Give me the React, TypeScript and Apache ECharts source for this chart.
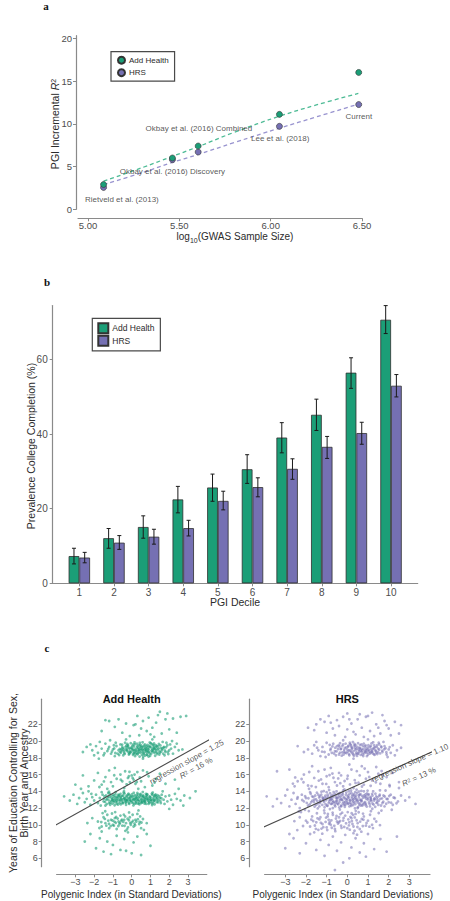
import React, { useEffect, useRef } from "react";
import * as echarts from "echarts";

const GREEN = "#1b9e77";
const PURPLE = "#7570b3";
const FONT = "'Liberation Sans', Arial, sans-serif";
const SERIF = "'Liberation Serif', 'DejaVu Serif', serif";
const AXIS_COLOR = "#8a8a8a";
const TICK_TEXT = "#4d4d4d";
const TITLE_TEXT = "#2b2b2b";

// ---------- Panel a ----------
const gwasLog10N = [5.085, 5.462, 5.603, 6.048, 6.482];
const r2AddHealth = [2.9, 6.0, 7.4, 11.1, 16.0];
const r2HRS = [2.55, 5.8, 6.7, 9.7, 12.25];
const fitX = [5.085, 5.3, 5.45, 5.6, 5.8, 6.05, 6.25, 6.48];
const fitAddHealth = [3.3, 4.9, 6.1, 7.3, 9.0, 10.9, 12.2, 13.55];
const fitHRS = [2.9, 4.3, 5.4, 6.4, 7.8, 9.5, 10.8, 12.3];
const studyLabels = [
  "Rietveld et al. (2013)",
  "Okbay et al. (2016) Discovery",
  "Okbay et al. (2016) Combined",
  "Lee et al. (2018)",
  "Current",
];
const studyLabelX = [5.185, 5.462, 5.607, 6.052, 6.483];
const studyLabelY = [1.17, 4.4, 9.39, 8.3, 10.83];
const aXTicks = [5, 5.5, 6, 6.5];
const aYTicks = [0, 5, 10, 15, 20];

// ---------- Panel b ----------
const deciles = [1, 2, 3, 4, 5, 6, 7, 8, 9, 10];
const collegeAddHealth = [7.3, 12.1, 15.1, 22.5, 25.7, 30.6, 39.1, 45.2, 56.5, 70.7];
const addHealthLow = [5.2, 9.4, 12.1, 18.9, 22.0, 26.8, 35.0, 41.0, 52.3, 67.0];
const addHealthHigh = [9.4, 14.7, 18.1, 26.0, 29.3, 34.5, 43.1, 49.4, 60.5, 74.5];
const collegeHRS = [6.9, 10.9, 12.5, 14.8, 22.1, 25.8, 30.7, 36.6, 40.3, 53.0];
const hrsLow = [5.5, 9.1, 10.5, 12.7, 19.7, 23.2, 27.9, 33.5, 37.3, 50.0];
const hrsHigh = [8.3, 12.8, 14.5, 16.9, 24.7, 28.3, 33.4, 39.4, 43.2, 56.0];
const bYTicks = [0, 20, 40, 60];

// ---------- Panel c ----------
const cXTicks = [-3, -2, -1, 0, 1, 2, 3];
const cYTicks = [6, 8, 10, 12, 14, 16, 18, 20, 22];
const regAddHealth = [[-4.9, 8.9], [4.85, 21.05]];
const regHRS = [[-4.75, 8.95], [4.9, 19.6]];

// Add Health individuals (PGI in SD, years of education), flat x,y pairs
const addHealthFlat = [
  -0.7,18.9, -0.5,19.3, -0.4,18.6, -0.3,19.0, -0.2,19.5, -0.1,18.8, 0.0,19.2, 0.1,18.5, 0.2,19.0, 0.3,19.4, 0.4,18.7, 0.5,19.1, 0.6,18.9, 0.7,19.6, 0.8,18.4, 0.9,19.0, 1.0,19.3, 1.1,18.7, 1.2,19.1, 1.3,18.9, 1.4,19.4, 1.5,18.6,
  -0.6,19.6, -0.45,18.3, -0.25,18.95, -0.05,19.75, 0.15,18.75, 0.35,19.2, 0.55,18.35, 0.75,19.05, 0.95,18.55, 1.15,19.55, 1.35,18.45, 1.55,19.15,
  -0.75,18.5, -0.55,19.0, -0.35,19.8, -0.15,18.4, 0.05,18.9, 0.25,18.65, 0.45,19.55, 0.65,18.45, 0.85,19.25, 1.05,18.85, 1.25,18.25, 1.45,19.65,
  0.12,19.35, 0.32,18.85, 0.52,19.45, 0.72,18.75, 0.92,19.45, 1.12,18.95, -0.22,19.2, -0.42,18.8, 0.62,19.3, 0.82,18.65, 1.02,19.75, 0.18,18.2, 0.38,19.0, 0.58,18.7, 0.78,19.35, 0.98,18.25, 1.18,19.2, 1.38,19.0, -0.08,18.6, -0.28,19.45, 0.28,19.7, 0.48,18.9, 0.68,19.0, 0.88,18.8, 1.08,19.1, 1.28,19.5, 1.48,18.8, 0.02,19.05, -0.62,18.7, 0.22,18.45, 0.42,18.15, 0.08,19.6, 0.58,19.85, 1.62,18.95, 1.72,19.3, 1.68,18.5,
  -0.12,19.1, 0.33,18.55, 0.77,18.95, 1.21,18.6, -0.48,19.15, 0.9,18.15, 0.15,19.85, 1.3,19.25, 0.45,19.3, -0.18,18.7,
  -0.93,19.12, -0.87,18.58, -0.81,19.41, -0.67,18.33, -0.63,19.07, -0.57,18.62, -0.51,19.58, -0.43,19.02, -0.37,18.47, -0.33,19.29, -0.27,18.83, -0.19,19.37, -0.13,18.52, -0.07,19.18, -0.03,18.71, 0.03,19.42, 0.07,18.36, 0.11,18.97, 0.17,19.63, 0.23,18.88, 0.27,19.21, 0.31,18.42, 0.37,19.52, 0.41,18.96, 0.47,18.61, 0.53,19.27, 0.57,19.02, 0.63,18.57, 0.67,19.44, 0.71,18.27, 0.73,19.18, 0.79,18.82, 0.83,19.53, 0.87,19.07, 0.91,18.68, 0.97,19.31, 1.03,18.47, 1.07,19.62, 1.13,18.83, 1.17,19.36, 1.23,19.04, 1.27,18.71, 1.33,19.38, 1.37,18.62, 1.43,19.12, 1.47,18.39, 1.53,19.48, 1.57,18.74, 1.63,19.11, 1.77,18.88, 1.83,19.26, 1.93,18.72, 0.13,18.61, 0.43,19.79, 0.83,18.32, 1.19,19.71, -0.53,18.86, -0.23,19.66, 0.61,18.12, 0.96,19.82,
  -2.1,18.9, -1.9,19.4, -1.8,18.6, -1.6,19.1, -1.5,18.3, -1.4,19.7, -1.3,18.8, -1.2,19.3, -1.1,18.5, -1.0,19.0, -0.9,18.2, -0.95,19.5, -1.05,18.75, -1.25,19.05, -1.7,19.9, -2.4,19.3, -1.45,18.55, -0.85,19.8, -2.0,18.3, -1.15,20.1,
  1.7,19.2, 1.8,18.7, 1.9,19.5, 2.0,18.9, 2.1,19.1, 2.2,18.5, 2.3,19.3, 2.5,18.9, 1.75,18.3, 1.85,19.8, 2.05,19.6, 2.4,19.7, 2.7,19.0, 1.95,18.45, 2.15,20.0, 1.65,19.9, -2.6,18.7, -1.75,17.9, 0.6,17.9, 1.1,20.2, -0.3,20.2, -2.2,19.6,
  -1.4,22.5, -1.2,22.4, -0.9,21.7, -0.5,21.0, -0.3,22.1, 0.1,21.9, 0.2,22.0, 0.4,20.7, 0.6,22.4, 0.8,21.2, 0.9,22.8, 1.1,21.6, 1.3,22.2, 1.4,23.1, 1.5,23.5, 1.6,20.9, 1.8,22.6, 2.0,21.4, 2.2,22.7, 2.6,22.9, 2.9,23.0, -0.1,20.6, 0.5,21.5, 1.0,20.8, -1.6,21.2, 0.3,23.0, 1.2,20.5, 1.9,23.3, -0.7,22.6, 2.4,21.0,
  -1.3,13.1, -1.2,12.6, -1.1,13.5, -1.0,12.9, -0.9,13.3, -0.8,12.5, -0.7,13.0, -0.6,13.7, -0.5,12.8, -0.4,13.2, -0.3,12.4, -0.2,13.6, -0.1,13.0, 0.0,12.7, 0.1,13.4, 0.2,12.9, 0.3,13.8, 0.4,12.6, 0.5,13.1, 0.6,13.5, 0.7,12.8, 0.8,13.3, 0.9,12.5, 1.0,13.0, 1.1,13.6, 1.2,12.9, 1.3,13.2, 1.4,12.7,
  -1.25,13.8, -1.15,12.4, -1.05,13.0, -0.95,12.7, -0.85,13.9, -0.75,13.3, -0.65,12.6, -0.55,13.1, -0.45,13.5, -0.35,12.9, -0.25,13.0, -0.15,12.6, -0.05,13.4, 0.05,13.1, 0.15,12.5, 0.25,13.3, 0.35,13.0, 0.45,13.6, 0.55,12.7, 0.65,13.2, 0.75,13.7, 0.85,12.9, 0.95,13.4, 1.05,12.6, 1.15,13.1, 1.25,13.5, 1.35,13.0,
  -1.18,13.3, -0.98,13.6, -0.78,12.8, -0.58,12.45, -0.38,13.75, -0.18,13.25, 0.02,13.65, 0.22,12.75, 0.42,13.35, 0.62,12.95, 0.82,13.65, 1.02,13.25, 1.22,12.45, -0.88,13.05, -0.68,13.45, -0.48,12.65, -0.28,13.35, -0.08,12.85, 0.12,13.05, 0.32,12.55, 0.52,13.45, 0.72,13.05, 0.92,12.75, 1.12,13.85, 1.32,13.4,
  -1.08,12.85, -0.62,13.25, -0.12,13.15, 0.38,12.85, 0.88,13.15, 1.38,13.55, -0.32,13.0, 0.18,13.55, 0.68,12.55, 1.18,12.8, -0.72,13.6, -0.22,12.8, 0.28,13.15, 0.78,13.5, 0.08,12.95, -0.42,13.05, 0.58,13.3, 1.08,12.95, -0.82,12.95, 0.48,12.85,
  -1.48,13.12, -1.42,12.74, -1.37,13.52, -1.33,12.48, -1.27,13.34, -1.22,12.92, -1.17,13.71, -1.13,12.67, -1.07,13.22, -1.03,12.53, -0.97,13.41, -0.93,12.88, -0.87,13.63, -0.83,12.71, -0.77,13.14, -0.73,12.42, -0.67,13.53, -0.63,12.83, -0.57,13.36, -0.53,13.02, -0.47,12.57, -0.43,13.82, -0.37,13.18, -0.33,12.66, -0.27,13.47, -0.23,12.96, -0.17,13.72, -0.13,12.51, -0.07,13.27, -0.03,12.87, 0.03,13.38, 0.07,12.62, 0.11,13.82, 0.17,13.09, 0.23,12.58, 0.27,13.49, 0.31,12.93, 0.37,13.27, 0.41,12.44, 0.47,13.69, 0.53,13.01, 0.57,12.73, 0.63,13.41, 0.67,12.88, 0.73,13.26, 0.77,12.52, 0.83,13.59, 0.87,13.04, 0.93,12.66, 0.97,13.33, 1.03,12.82, 1.07,13.71, 1.13,12.58, 1.17,13.28, 1.23,12.97, 1.27,13.62, 1.33,12.71, 1.37,13.24, 1.43,12.96, 1.47,13.41, 1.53,12.83, 1.58,13.17, -0.91,12.34, -0.41,14.02, 0.09,12.32, 0.59,13.91, 1.09,12.36, -1.21,13.96, 0.33,13.62, -0.61,12.98, 0.79,13.06, -0.11,13.56, 0.51,12.61, -0.81,13.34, 1.19,13.47, -0.31,12.73, 0.21,13.21, 0.71,12.72, -0.51,13.46, 0.99,13.02, -1.01,13.12,
  -3.6,13.4, -3.3,12.9, -3.1,13.6, -2.9,12.5, -2.8,13.2, -2.6,13.8, -2.5,12.7, -2.4,13.1, -2.3,14.0, -2.2,12.4, -2.1,13.3, -2.0,12.9, -1.9,13.6, -1.8,12.6, -1.7,13.2, -1.6,13.9, -1.5,12.8, -1.45,13.4, -1.4,12.3, -1.35,13.0, -2.7,14.3, -2.15,13.7, -1.65,12.3, -1.55,13.6, -3.0,14.8,
  1.5,13.2, 1.55,12.6, 1.6,13.6, 1.7,13.0, 1.75,12.5, 1.8,13.4, 1.9,12.8, 2.0,13.5, 2.1,13.0, 2.2,12.4, 2.3,13.7, 2.4,13.1, 2.6,12.9, 2.8,13.5, 3.1,13.2, 2.5,14.3, 1.65,14.0, 2.0,11.9, 3.4,14.0, 2.75,12.3,
  -2.0,15.3, -1.8,16.2, -1.6,14.8, -1.4,15.7, -1.2,16.5, -1.0,14.6, -0.8,15.5, -0.6,16.0, -0.4,14.4, -0.2,15.6, -0.1,15.1, 0.0,15.9, 0.1,15.4, 0.2,14.9, 0.3,16.3, 0.5,15.2, 0.7,14.5, 0.9,15.8, 1.1,14.7, 1.3,15.5, 1.5,16.1, -1.3,14.3, -0.5,15.2, 0.05,15.6, -0.15,15.8, 0.15,16.0, -2.3,14.6, -0.9,16.8, 0.6,16.5, 1.8,14.9, -1.1,15.1, 0.35,14.3, -0.35,16.4, 2.3,15.4, -2.6,15.9,
  -1.72,14.52, -0.93,15.92, -0.27,14.84, 0.43,15.67, 0.82,16.28, -0.58,15.38, 1.22,15.04, -1.48,15.18, 0.27,15.12, -0.12,16.33,
  -1.8,10.4, -1.6,9.8, -1.5,10.9, -1.4,10.2, -1.3,11.2, -1.2,9.6, -1.1,10.6, -1.0,10.0, -0.9,10.8, -0.8,9.5, -0.7,10.4, -0.6,11.1, -0.5,9.9, -0.4,10.6, -0.3,10.2, -0.2,9.7, -0.1,10.9, 0.0,10.3, 0.1,9.8, 0.2,10.6, 0.3,11.3, 0.4,10.1, 0.5,9.6, 0.6,10.7, -1.55,11.4, -1.25,10.5, -0.95,9.9, -0.65,10.1, -0.35,11.0, -0.05,10.0, 0.25,10.4, -0.75,10.75, -0.45,10.35, -0.15,10.55, 0.15,10.15, -1.05,11.35, -0.25,9.45, 0.45,11.0, 0.8,10.2, -2.1,10.8, -0.55,10.5, -0.85,10.25, 0.05,11.2, -1.35,9.9, 0.65,9.4,
  -1.62,10.33, -1.43,10.71, -1.21,10.12, -1.02,10.52, -0.83,10.93, -0.71,9.86, -0.52,10.62, -0.38,9.88, -0.22,10.73, -0.08,10.21, 0.07,10.48, 0.18,9.94, 0.33,10.68, -0.62,10.26, -0.92,10.38, -1.12,9.85, 0.42,10.36, -0.42,11.22,
  -1.41,11.62, -0.88,11.52, -0.14,11.48, 0.36,11.72, -2.36,10.21, -1.72,9.62, 0.52,10.28, -0.34,9.28,
  -2.2,8.9, -1.9,7.2, -1.7,8.4, -1.5,6.8, -1.3,8.0, -1.0,7.6, -0.8,8.7, -0.6,7.0, -0.4,8.3, -0.2,9.1, 0.0,6.6, 0.1,7.9, 0.3,8.6, 0.5,6.4, -1.1,6.5, -2.5,8.0, 0.8,8.9, -0.3,6.9, -1.6,9.2, 1.0,7.5,
];

// HRS individuals, flat x,y pairs
const hrsFlat = [
  -0.6,18.8, -0.5,19.4, -0.4,18.4, -0.3,19.1, -0.2,19.6, -0.1,18.6, 0.0,19.0, 0.1,18.3, 0.2,19.3, 0.3,18.8, 0.4,19.5, 0.5,18.5, 0.6,19.2, 0.7,18.7, 0.8,19.7, 0.9,18.9, 1.0,18.4, 1.1,19.3, 1.2,18.8, 1.3,19.5, 1.4,18.6, 1.5,19.1,
  -0.55,18.3, -0.35,19.75, -0.15,18.95, 0.05,19.45, 0.25,18.55, 0.45,19.05, 0.65,18.35, 0.85,19.35, 1.05,18.75, 1.25,19.85, 1.45,18.45, 1.65,19.25,
  -0.45,19.05, -0.25,18.65, -0.05,19.25, 0.15,18.85, 0.35,19.65, 0.55,18.95, 0.75,19.4, 0.95,18.2, 1.15,19.0, 1.35,18.9, 1.55,19.6, 0.12,19.8, 0.42,18.45, 0.72,18.9, 1.02,19.5, 1.32,18.35, -0.18,18.4, 0.22,19.05, 0.62,19.55, 0.92,19.1, 1.22,18.55, 0.32,18.25, 0.82,18.55, -0.38,19.35, 0.02,18.75, 0.52,19.75, 1.12,18.65, 1.42,19.3, 0.18,19.5, 0.68,19.05, 0.08,18.45, 0.58,18.75, 0.98,18.9, 1.28,19.15, -0.08,19.7, 0.38,19.2, 0.88,18.7,
  -0.82,18.93, -0.72,19.36, -0.64,18.52, -0.58,19.21, -0.52,18.77, -0.42,19.52, -0.36,18.62, -0.32,19.03, -0.24,19.41, -0.16,18.73, -0.12,19.17, -0.04,18.58, 0.04,19.33, 0.09,18.91, 0.14,19.62, 0.19,18.68, 0.24,19.18, 0.29,18.41, 0.34,19.44, 0.39,18.97, 0.44,18.66, 0.49,19.29, 0.54,18.52, 0.59,19.12, 0.64,18.84, 0.69,19.61, 0.74,18.43, 0.79,19.07, 0.84,18.79, 0.89,19.48, 0.94,18.62, 0.99,19.22, 1.04,18.96, 1.09,18.51, 1.14,19.41, 1.19,18.72, 1.24,19.06, 1.29,18.44, 1.34,19.27, 1.39,18.81, 1.44,19.52, 1.49,18.68, 1.54,18.97, 1.59,18.53, 1.64,19.37, 1.69,18.86, 1.79,19.02, 1.89,18.67, -0.68,19.68, 0.27,19.88, 0.77,18.21, 1.17,19.72, -0.27,18.26, 1.52,19.81, 0.47,18.23, -1.22,18.74, -1.46,19.21, 2.05,19.28,
  -1.9,19.0, -1.7,18.5, -1.6,19.5, -1.4,18.9, -1.3,18.2, -1.2,19.3, -1.1,18.7, -1.0,19.8, -0.9,18.4, -0.8,19.1, -0.75,18.6, -1.5,19.9, -2.1,18.7, -1.05,18.1, -0.85,19.55,
  1.7,18.7, 1.8,19.4, 1.9,18.4, 2.0,19.0, 2.1,18.6, 2.2,19.5, 2.4,18.9, 1.75,19.9, 1.95,18.1, 2.6,19.2, 1.85,19.15, 2.3,18.3, -2.4,19.4, 0.3,17.9, 1.0,20.2, -0.2,20.1,
  -1.6,21.3, -1.3,22.6, -1.0,21.0, -0.8,22.2, -0.6,20.7, -0.4,21.8, -0.2,22.9, 0.0,21.4, 0.2,22.1, 0.4,20.8, 0.5,22.6, 0.7,21.6, 0.9,22.9, 1.1,21.2, 1.2,23.4, 1.4,22.0, 1.6,20.9, 1.8,22.4, 2.0,21.5, 2.3,22.3, 2.6,21.9, -0.1,20.5, 0.6,23.2, 1.3,20.6, -0.9,23.0, 1.5,21.6, 0.1,22.6, 2.1,20.7, -1.5,22.0, 0.8,20.5, 1.0,23.0, -0.5,22.5,
  -0.7,21.5, 0.3,21.1, 1.7,23.1, -1.1,22.3, 2.5,20.9, 0.0,23.3, 1.9,21.9, -1.9,21.6,
  -1.6,13.0, -1.5,12.4, -1.4,13.6, -1.3,12.8, -1.2,13.3, -1.1,12.1, -1.0,13.9, -0.9,12.6, -0.8,13.2, -0.7,12.0, -0.6,13.7, -0.5,12.9, -0.4,13.4, -0.3,12.3, -0.2,14.1, -0.1,12.7, 0.0,13.1, 0.1,12.2, 0.2,13.8, 0.3,12.6, 0.4,13.3, 0.5,12.0, 0.6,13.6, 0.7,12.8, 0.8,14.0, 0.9,12.5, 1.0,13.2, 1.1,12.2, 1.2,13.7, 1.3,12.9, 1.4,13.4, 1.5,12.4, 1.6,13.1,
  -1.55,13.5, -1.35,12.2, -1.15,12.9, -0.95,13.6, -0.75,12.5, -0.55,13.2, -0.35,13.8, -0.15,12.4, 0.05,13.5, 0.25,12.9, 0.45,14.2, 0.65,12.3, 0.85,13.3, 1.05,12.7, 1.25,14.0, 1.45,12.7,
  -1.45,12.85, -1.25,13.95, -1.05,12.45, -0.85,13.05, -0.65,12.75, -0.45,13.65, -0.25,12.95, -0.05,13.85, 0.15,12.65, 0.35,13.15, 0.55,13.55, 0.75,12.45, 0.95,13.75, 1.15,13.05, 1.35,12.15, 1.55,13.45,
  -1.18,13.1, -0.98,12.3, -0.78,13.45, -0.58,12.2, -0.38,12.7, -0.18,13.3, 0.02,12.5, 0.22,13.4, 0.42,12.8, 0.62,13.0, 0.82,12.6, 1.02,13.55, 1.22,12.55, -0.88,14.15, -0.48,12.55, -0.08,13.05, 0.32,13.65, 0.72,13.45, 1.12,12.95, -0.68,13.35, -0.28,13.55, 0.12,12.9, 0.52,12.65, 0.92,13.1, -1.08,13.25, 0.08,13.25, -0.12,12.15, 0.28,12.35, 0.68,14.05, -0.32,13.1, 0.48,13.0, -0.72,12.9, 0.88,12.35, -0.52,14.0, 0.18,14.1, -0.22,12.55, 0.58,12.4, 1.32,13.15, -1.32,12.6, 0.38,13.9,
  -2.18,12.96, -2.04,13.42, -1.96,12.62, -1.88,13.17, -1.82,12.44, -1.77,13.71, -1.69,12.89, -1.64,13.33, -1.58,12.18, -1.52,13.06, -1.47,13.84, -1.41,12.57, -1.36,13.27, -1.31,12.93, -1.26,13.61, -1.21,12.38, -1.16,13.14, -1.12,12.72, -1.06,13.48, -1.02,12.96, -0.96,12.27, -0.92,13.37, -0.87,12.81, -0.83,13.76, -0.79,12.52, -0.74,13.12, -0.69,12.67, -0.66,13.91, -0.61,12.37, -0.56,13.46, -0.53,12.82, -0.49,13.18, -0.44,12.46, -0.41,13.72, -0.36,12.97, -0.33,13.34, -0.29,12.21, -0.26,13.02, -0.21,13.63, -0.17,12.73, -0.13,13.21, -0.09,12.41, -0.06,13.56, -0.02,12.91, 0.03,13.32, 0.06,12.58, 0.11,13.71, 0.14,12.96, 0.19,12.28, 0.23,13.19, 0.26,13.58, 0.31,12.77, 0.34,13.42, 0.39,12.49, 0.43,13.07, 0.47,13.81, 0.51,12.86, 0.56,13.29, 0.61,12.56, 0.64,13.66, 0.69,12.99, 0.73,12.31, 0.77,13.24, 0.81,13.52, 0.86,12.72, 0.91,13.38, 0.94,12.18, 0.99,13.01, 1.03,13.67, 1.08,12.48, 1.13,13.21, 1.17,12.84, 1.22,13.49, 1.27,12.42, 1.31,13.09, 1.36,13.71, 1.41,12.62, 1.46,13.28, 1.52,12.88, 1.57,13.59, 1.63,12.31, 1.68,13.16, 1.74,12.77, 1.81,13.38, 1.88,12.52, 1.95,13.08, 2.03,13.44, 2.12,12.65, 2.24,13.26, -0.71,13.58, -0.39,12.08, 0.07,14.02, 0.52,12.12, 0.98,14.08, -1.14,14.03, -0.14,14.22, 0.37,11.98, 1.21,11.92, -0.84,11.88, -1.43,11.96, 1.58,14.12, -2.42,13.12, 2.38,12.58, -0.23,13.86, 0.42,13.52, -0.57,12.63, 0.88,13.62, -0.99,13.21, 0.17,12.46, -1.33,13.41, 0.66,12.87, -0.47,13.24, 1.12,13.34, -0.02,12.66, 0.29,13.04, -0.81,12.98, 1.44,13.02, -1.61,12.71, 0.56,13.97,
  -3.4,13.1, -3.2,12.6, -3.0,13.5, -2.8,12.2, -2.7,13.0, -2.6,13.8, -2.5,12.5, -2.4,13.3, -2.3,12.0, -2.2,13.6, -2.1,12.8, -2.0,13.2, -1.9,12.3, -1.8,13.9, -1.75,12.7, -1.7,13.4, -2.9,14.2, -2.35,11.6, -1.85,14.3, -2.05,11.8, -3.6,12.2, -3.9,13.4, -2.55,14.6,
  1.7,12.6, 1.75,13.5, 1.8,12.2, 1.9,13.1, 2.0,12.7, 2.1,13.6, 2.2,12.4, 2.3,13.2, 2.45,12.8, 2.6,13.5, 2.8,12.9, 3.0,13.3, 1.85,14.1, 2.15,11.8, 2.5,14.4, 3.3,12.5, 2.05,14.6, 1.65,11.7,
  -2.8,16.6, -2.4,15.2, -2.1,16.0, -1.9,14.7, -1.6,15.6, -1.4,16.4, -1.2,14.9, -1.0,15.8, -0.8,16.8, -0.6,15.1, -0.4,16.2, -0.2,14.6, 0.0,15.5, 0.2,16.6, 0.4,15.0, 0.6,15.9, 0.8,14.8, 1.0,16.3, 1.2,15.3, 1.4,16.9, 1.6,14.9, 1.9,15.7, 2.2,16.2, -1.7,17.0, -0.9,14.5, -0.3,15.9, 0.3,14.4, 0.9,15.5, 1.5,16.1, -1.1,16.6, 0.1,17.2, -0.5,14.7, 0.7,17.0, 2.5,15.1, -3.4,16.4,
  -2.52,15.66, -1.84,16.31, -1.27,15.42, -0.72,16.12, -0.13,15.23, 0.46,16.41, 1.13,14.66, 1.72,15.92, 2.04,14.77, -1.52,14.51, 0.84,16.72, -0.44,15.54, 0.13,14.82, -2.12,15.08,
  -2.63,14.92, -2.21,15.47, -1.73,14.63, -1.38,15.28, -1.02,14.88, -0.67,15.62, -0.34,14.97, 0.02,15.86, 0.36,15.34, 0.71,14.58, 1.06,15.71, 1.38,15.08, 1.66,16.42, -0.86,15.94, 0.54,15.02,
  -1.86,11.64, -1.47,11.38, -1.12,11.72, -0.71,11.46, -0.36,11.82, 0.02,11.52, 0.41,11.67, 0.76,11.34, 1.14,11.63, 1.52,11.41, -0.94,11.29, 0.21,11.38, -2.24,11.52,
  -2.0,10.5, -1.8,9.8, -1.7,11.0, -1.5,10.3, -1.4,9.4, -1.3,10.9, -1.2,10.1, -1.1,11.4, -1.0,9.7, -0.9,10.6, -0.8,10.0, -0.7,11.2, -0.6,9.5, -0.5,10.4, -0.4,10.9, -0.3,9.9, -0.2,10.5, -0.1,11.1, 0.0,9.6, 0.1,10.3, 0.2,10.8, 0.3,9.8, 0.4,11.3, 0.5,10.2, 0.6,9.5, 0.7,10.7, 0.8,11.0, 0.9,9.9, 1.0,10.5, 1.2,10.0,
  -1.65,10.45, -1.35,10.65, -1.05,10.35, -0.75,9.65, -0.45,10.15, -0.15,9.75, 0.15,10.95, 0.45,10.55, 0.75,9.85, -0.95,11.0, -0.55,10.75, -0.25,11.45, 0.25,10.1, 0.55,11.5, -1.25,9.55, -0.85,10.3, 0.05,10.65, 0.35,9.3, -0.35,10.45, 1.1,11.2, -2.3,10.9, 1.4,10.4,
  -1.93,10.28, -1.74,10.63, -1.57,9.92, -1.44,10.78, -1.28,10.24, -1.16,9.72, -1.03,10.86, -0.88,10.12, -0.77,10.54, -0.63,9.88, -0.52,11.06, -0.41,10.31, -0.28,9.64, -0.18,10.82, -0.06,10.18, 0.08,9.93, 0.22,10.46, 0.36,10.88, 0.49,9.74, 0.62,10.38, 0.78,10.62, 0.93,10.22, 1.07,9.78, 1.31,10.72, -2.14,9.86, -0.97,9.38, -0.33,11.28, 0.28,11.18, 1.58,9.96, -2.56,10.44,
  -1.52,9.52, -0.58,9.24, 0.12,9.42, 0.68,9.18, 1.24,9.61, -2.42,9.37, -1.21,8.94, 0.47,8.82,
  -3.0,7.2, -2.6,8.4, -2.3,6.6, -2.0,7.8, -1.8,8.9, -1.5,7.0, -1.3,8.2, -1.1,6.3, -0.9,7.6, -0.7,8.6, -0.5,6.9, -0.3,7.9, -0.1,8.8, 0.1,6.0, 0.2,7.3, 0.4,8.4, 0.6,6.7, 0.8,7.8, 1.0,8.9, 1.3,7.1, 1.6,8.3, 1.9,6.8, -0.2,5.5, -1.6,9.1, 0.3,9.0, -2.8,8.9, 2.4,8.6, -0.6,4.6, 0.9,6.2,
];

const toPairs = (flat: number[]) => {
  const out: number[][] = [];
  for (let i = 0; i < flat.length; i += 2) out.push([flat[i], flat[i + 1]]);
  return out;
};

const axisLine = { show: true, onZero: false, lineStyle: { color: AXIS_COLOR, width: 1.2 } };
const tickStyle = (vals: number[]) => ({ show: true, length: 3, customValues: vals, lineStyle: { color: AXIS_COLOR, width: 1 } });
const labelStyle = (vals: number[], size: number, margin: number, fmt?: (v: number) => string) => ({
  customValues: vals,
  fontSize: size,
  color: TICK_TEXT,
  fontFamily: FONT,
  margin,
  formatter: fmt || ((v: number) => (v < 0 ? "\u2212" + Math.abs(v) : String(v))),
});

const errRender = (offset: number) => (params: any, api: any) => {
  const x = api.value(0);
  const pLo = api.coord([x, api.value(1)]);
  const pHi = api.coord([x, api.value(2)]);
  const cx = pLo[0] + offset;
  const w = 2;
  const st = { stroke: "#1a1a1a", lineWidth: 1 };
  return {
    type: "group",
    children: [
      { type: "line", shape: { x1: cx, y1: pLo[1], x2: cx, y2: pHi[1] }, style: st },
      { type: "line", shape: { x1: cx - w, y1: pHi[1], x2: cx + w, y2: pHi[1] }, style: st },
      { type: "line", shape: { x1: cx - w, y1: pLo[1], x2: cx + w, y2: pLo[1] }, style: st },
    ],
  };
};

const BAR_W = 10.7;

const richR2 = {
  i: { fontStyle: "italic", fontSize: 8, fontFamily: FONT, color: TITLE_TEXT },
  s: { fontSize: 5.5, fontFamily: FONT, color: TITLE_TEXT, verticalAlign: "top", lineHeight: 8 },
  n: { fontSize: 8, fontFamily: FONT, color: TITLE_TEXT },
};

const option: any = {
  animation: false,
  backgroundColor: "#ffffff",
  textStyle: { fontFamily: FONT },
  grid: [
    { left: 78, top: 35.7, width: 284, height: 173.6 },
    { left: 52.7, top: 305.6, width: 365, height: 277.7 },
    { left: 56.6, top: 699.2, width: 150.2, height: 167.5 },
    { left: 264.6, top: 699.2, width: 165.4, height: 167.5 },
  ],
  xAxis: [
    {
      gridIndex: 0, type: "value", min: 4.945, max: 6.5, offset: 9,
      splitLine: { show: false }, axisLine, axisTick: tickStyle(aXTicks),
      axisLabel: labelStyle(aXTicks, 9.5, 2, (v: number) => v.toFixed(2)),
    },
    {
      gridIndex: 1, type: "value", min: 0.231, max: 10.77,
      splitLine: { show: false }, axisLine, axisTick: tickStyle(deciles),
      axisLabel: labelStyle(deciles, 10, 4),
    },
    {
      gridIndex: 2, type: "value", min: -4, max: 4, offset: 7.6,
      splitLine: { show: false }, axisLine, axisTick: tickStyle(cXTicks),
      axisLabel: labelStyle(cXTicks, 9, 3),
    },
    {
      gridIndex: 3, type: "value", min: -4, max: 4, offset: 7.6,
      splitLine: { show: false }, axisLine, axisTick: tickStyle(cXTicks),
      axisLabel: labelStyle(cXTicks, 9, 3),
    },
  ],
  yAxis: [
    {
      gridIndex: 0, type: "value", min: 0, max: 20.3, offset: 2,
      splitLine: { show: false }, axisLine, axisTick: tickStyle(aYTicks),
      axisLabel: labelStyle(aYTicks, 9.5, 4),
    },
    {
      gridIndex: 1, type: "value", min: 0, max: 74.5,
      splitLine: { show: false }, axisLine, axisTick: tickStyle(bYTicks),
      axisLabel: labelStyle(bYTicks, 10, 5),
    },
    {
      gridIndex: 2, type: "value", min: 5, max: 25, offset: 14.9,
      splitLine: { show: false }, axisLine, axisTick: tickStyle(cYTicks),
      axisLabel: labelStyle(cYTicks, 9, 4),
    },
    {
      gridIndex: 3, type: "value", min: 5, max: 25, offset: 15.3,
      splitLine: { show: false }, axisLine, axisTick: tickStyle(cYTicks),
      axisLabel: labelStyle(cYTicks, 9, 4),
    },
  ],
  legend: [
    {
      orient: "vertical", left: 111, top: 51.7,
      data: [{ name: "Add Health", icon: "circle" }, { name: "HRS", icon: "circle" }],
      itemWidth: 7, itemHeight: 7, itemGap: 3.5,
      padding: [4, 6, 4, 6],
      borderColor: "#4a4a4a", borderWidth: 1.2,
      textStyle: { fontSize: 8, color: TITLE_TEXT, fontFamily: FONT, padding: [0, 0, 0, -1] },
      selectedMode: false,
    },
    {
      orient: "vertical", left: 92.3, top: 318.3,
      data: [{ name: "Add Health", icon: "rect" }, { name: "HRS", icon: "rect" }],
      itemWidth: 10, itemHeight: 10, itemGap: 0.5,
      padding: [4, 6, 4, 5],
      borderColor: "#4a4a4a", borderWidth: 1.2,
      textStyle: { fontSize: 8.5, color: TITLE_TEXT, fontFamily: FONT, padding: [0, 0, 0, -1] },
      selectedMode: false,
    },
  ],
  series: [
    // Panel a: fitted curves
    {
      type: "line", xAxisIndex: 0, yAxisIndex: 0, name: "Add Health fit",
      data: fitX.map((x, i) => [x, fitAddHealth[i]]),
      smooth: 0.4, symbol: "none", z: 2,
      lineStyle: { color: "#4dbb95", width: 1.3, type: [4, 3] },
    },
    {
      type: "line", xAxisIndex: 0, yAxisIndex: 0, name: "HRS fit",
      data: fitX.map((x, i) => [x, fitHRS[i]]),
      smooth: 0.4, symbol: "none", z: 2,
      lineStyle: { color: "#9893cf", width: 1.3, type: [4, 3] },
    },
    // Panel a: points
    {
      type: "scatter", xAxisIndex: 0, yAxisIndex: 0, name: "Add Health",
      data: gwasLog10N.map((x, i) => [x, r2AddHealth[i]]),
      symbolSize: 6, z: 4,
      itemStyle: { color: GREEN, borderColor: "#333333", borderWidth: 0.6, opacity: 1 },
    },
    {
      type: "scatter", xAxisIndex: 0, yAxisIndex: 0, name: "HRS",
      data: gwasLog10N.map((x, i) => [x, r2HRS[i]]),
      symbolSize: 6, z: 3,
      itemStyle: { color: PURPLE, borderColor: "#333333", borderWidth: 0.6, opacity: 1 },
    },
    // Panel a: study annotations
    {
      type: "scatter", xAxisIndex: 0, yAxisIndex: 0, name: "studies",
      data: studyLabelX.map((x, i) => ({ value: [x, studyLabelY[i]], name: studyLabels[i] })),
      symbolSize: 1, z: 5, silent: true,
      itemStyle: { color: "rgba(0,0,0,0)" },
      label: { show: true, position: "inside", formatter: "{b}", fontSize: 8, color: TITLE_TEXT, fontFamily: FONT },
    },
    // Panel b: bars
    {
      type: "bar", xAxisIndex: 1, yAxisIndex: 1, name: "Add Health",
      data: deciles.map((d, i) => [d, collegeAddHealth[i]]),
      barWidth: BAR_W, barGap: "0%",
      itemStyle: { color: GREEN, borderColor: "#2e2e2e", borderWidth: 0.8 },
    },
    {
      type: "bar", xAxisIndex: 1, yAxisIndex: 1, name: "HRS",
      data: deciles.map((d, i) => [d, collegeHRS[i]]),
      barWidth: BAR_W, barGap: "0%",
      itemStyle: { color: PURPLE, borderColor: "#2e2e2e", borderWidth: 0.8 },
    },
    // Panel b: error bars
    {
      type: "custom", xAxisIndex: 1, yAxisIndex: 1, name: "Add Health CI",
      data: deciles.map((d, i) => [d, addHealthLow[i], addHealthHigh[i]]),
      renderItem: errRender(-BAR_W / 2), z: 5, silent: true,
    },
    {
      type: "custom", xAxisIndex: 1, yAxisIndex: 1, name: "HRS CI",
      data: deciles.map((d, i) => [d, hrsLow[i], hrsHigh[i]]),
      renderItem: errRender(BAR_W / 2), z: 5, silent: true,
    },
    // Panel c: Add Health scatter
    {
      type: "scatter", xAxisIndex: 2, yAxisIndex: 2, name: "Add Health sample",
      data: toPairs(addHealthFlat), symbolSize: 2.8, clip: false, silent: true,
      itemStyle: { color: GREEN, opacity: 0.6 },
    },
    {
      type: "line", xAxisIndex: 2, yAxisIndex: 2, name: "Add Health regression",
      data: regAddHealth, symbol: "none", clip: false, z: 4, silent: true,
      lineStyle: { color: "#4a4a4a", width: 1.1 },
    },
    {
      type: "scatter", xAxisIndex: 2, yAxisIndex: 2, name: "Add Health regression text",
      data: [
        { value: [2.93, 17.5], name: "regression slope = 1.25" },
        { value: [3.43, 16.78], name: "{i|R}{s|2}{n| = 16 %}" },
      ],
      symbolSize: 1, z: 5, silent: true, clip: false,
      itemStyle: { color: "rgba(0,0,0,0)" },
      label: { show: true, position: "inside", rotate: 29, formatter: "{b}", fontSize: 8, color: TITLE_TEXT, fontFamily: FONT, rich: richR2 },
    },
    // Panel c: HRS scatter
    {
      type: "scatter", xAxisIndex: 3, yAxisIndex: 3, name: "HRS sample",
      data: toPairs(hrsFlat), symbolSize: 2.8, clip: false, silent: true,
      itemStyle: { color: PURPLE, opacity: 0.55 },
    },
    {
      type: "line", xAxisIndex: 3, yAxisIndex: 3, name: "HRS regression",
      data: regHRS, symbol: "none", clip: false, z: 4, silent: true,
      lineStyle: { color: "#4a4a4a", width: 1.1 },
    },
    {
      type: "scatter", xAxisIndex: 3, yAxisIndex: 3, name: "HRS regression text",
      data: [
        { value: [3.03, 17.38], name: "regression slope = 1.10" },
        { value: [3.47, 15.74], name: "{i|R}{s|2}{n| = 13 %}" },
      ],
      symbolSize: 1, z: 5, silent: true, clip: false,
      itemStyle: { color: "rgba(0,0,0,0)" },
      label: { show: true, position: "inside", rotate: 24, formatter: "{b}", fontSize: 8, color: TITLE_TEXT, fontFamily: FONT, rich: richR2 },
    },
  ],
  graphic: [
    // panel letters
    { type: "text", x: 46, y: 6, style: { text: "a", font: `bold 11px ${SERIF}`, fill: "#111", align: "center", verticalAlign: "middle" } },
    { type: "text", x: 47, y: 282, style: { text: "b", font: `bold 11px ${SERIF}`, fill: "#111", align: "center", verticalAlign: "middle" } },
    { type: "text", x: 47, y: 648, style: { text: "c", font: `bold 11px ${SERIF}`, fill: "#111", align: "center", verticalAlign: "middle" } },
    // panel a titles
    {
      type: "text", x: 55, y: 124, rotation: Math.PI / 2,
      style: {
        text: "{n|PGI Incremental }{i|R}{s|2}", align: "center", verticalAlign: "middle",
        rich: {
          n: { fontSize: 10.5, fontFamily: FONT, fill: TITLE_TEXT },
          i: { fontSize: 10.5, fontFamily: FONT, fontStyle: "italic", fill: TITLE_TEXT },
          s: { fontSize: 7, fontFamily: FONT, fill: TITLE_TEXT, verticalAlign: "top", lineHeight: 10 },
        },
      },
    },
    {
      type: "text", x: 235, y: 236.5,
      style: {
        text: "{n|log}{b|10}{n|(GWAS Sample Size)}", align: "center", verticalAlign: "middle",
        rich: {
          n: { fontSize: 10, fontFamily: FONT, fill: TITLE_TEXT },
          b: { fontSize: 7, fontFamily: FONT, fill: TITLE_TEXT, verticalAlign: "bottom", lineHeight: 14 },
        },
      },
    },
    // panel b titles
    { type: "text", x: 31, y: 446, rotation: Math.PI / 2, style: { text: "Prevalence College Completion (%)", font: `10.5px ${FONT}`, fill: TITLE_TEXT, align: "center", verticalAlign: "middle" } },
    { type: "text", x: 235, y: 602, style: { text: "PGI Decile", font: `10.5px ${FONT}`, fill: TITLE_TEXT, align: "center", verticalAlign: "middle" } },
    // panel c titles
    { type: "text", x: 131.7, y: 699, style: { text: "Add Health", font: `bold 11px ${FONT}`, fill: "#111", align: "center", verticalAlign: "middle" } },
    { type: "text", x: 347.3, y: 699, style: { text: "HRS", font: `bold 11px ${FONT}`, fill: "#111", align: "center", verticalAlign: "middle" } },
    {
      type: "text", x: 18.5, y: 783, rotation: Math.PI / 2,
      style: { text: "Years of Education Controlling for Sex,\nBirth Year and Ancestry", font: `10.5px ${FONT}`, lineHeight: 11.5, fill: TITLE_TEXT, align: "center", verticalAlign: "middle" },
    },
    { type: "text", x: 131.3, y: 894, style: { text: "Polygenic Index (in Standard Deviations)", font: `10px ${FONT}`, fill: TITLE_TEXT, align: "center", verticalAlign: "middle" } },
    { type: "text", x: 342.8, y: 894, style: { text: "Polygenic Index (in Standard Deviations)", font: `10px ${FONT}`, fill: TITLE_TEXT, align: "center", verticalAlign: "middle" } },
  ],
};

export default function App() {
  const ref = useRef<HTMLDivElement>(null);
  useEffect(() => {
    if (!ref.current) return;
    const chart = echarts.init(ref.current, null, { renderer: "svg" });
    chart.setOption(option);
    return () => chart.dispose();
  }, []);
  return (
    <div
      ref={ref}
      style={{ position: "absolute", left: 0, top: 0, width: 450, height: 901, background: "#ffffff" }}
    />
  );
}
